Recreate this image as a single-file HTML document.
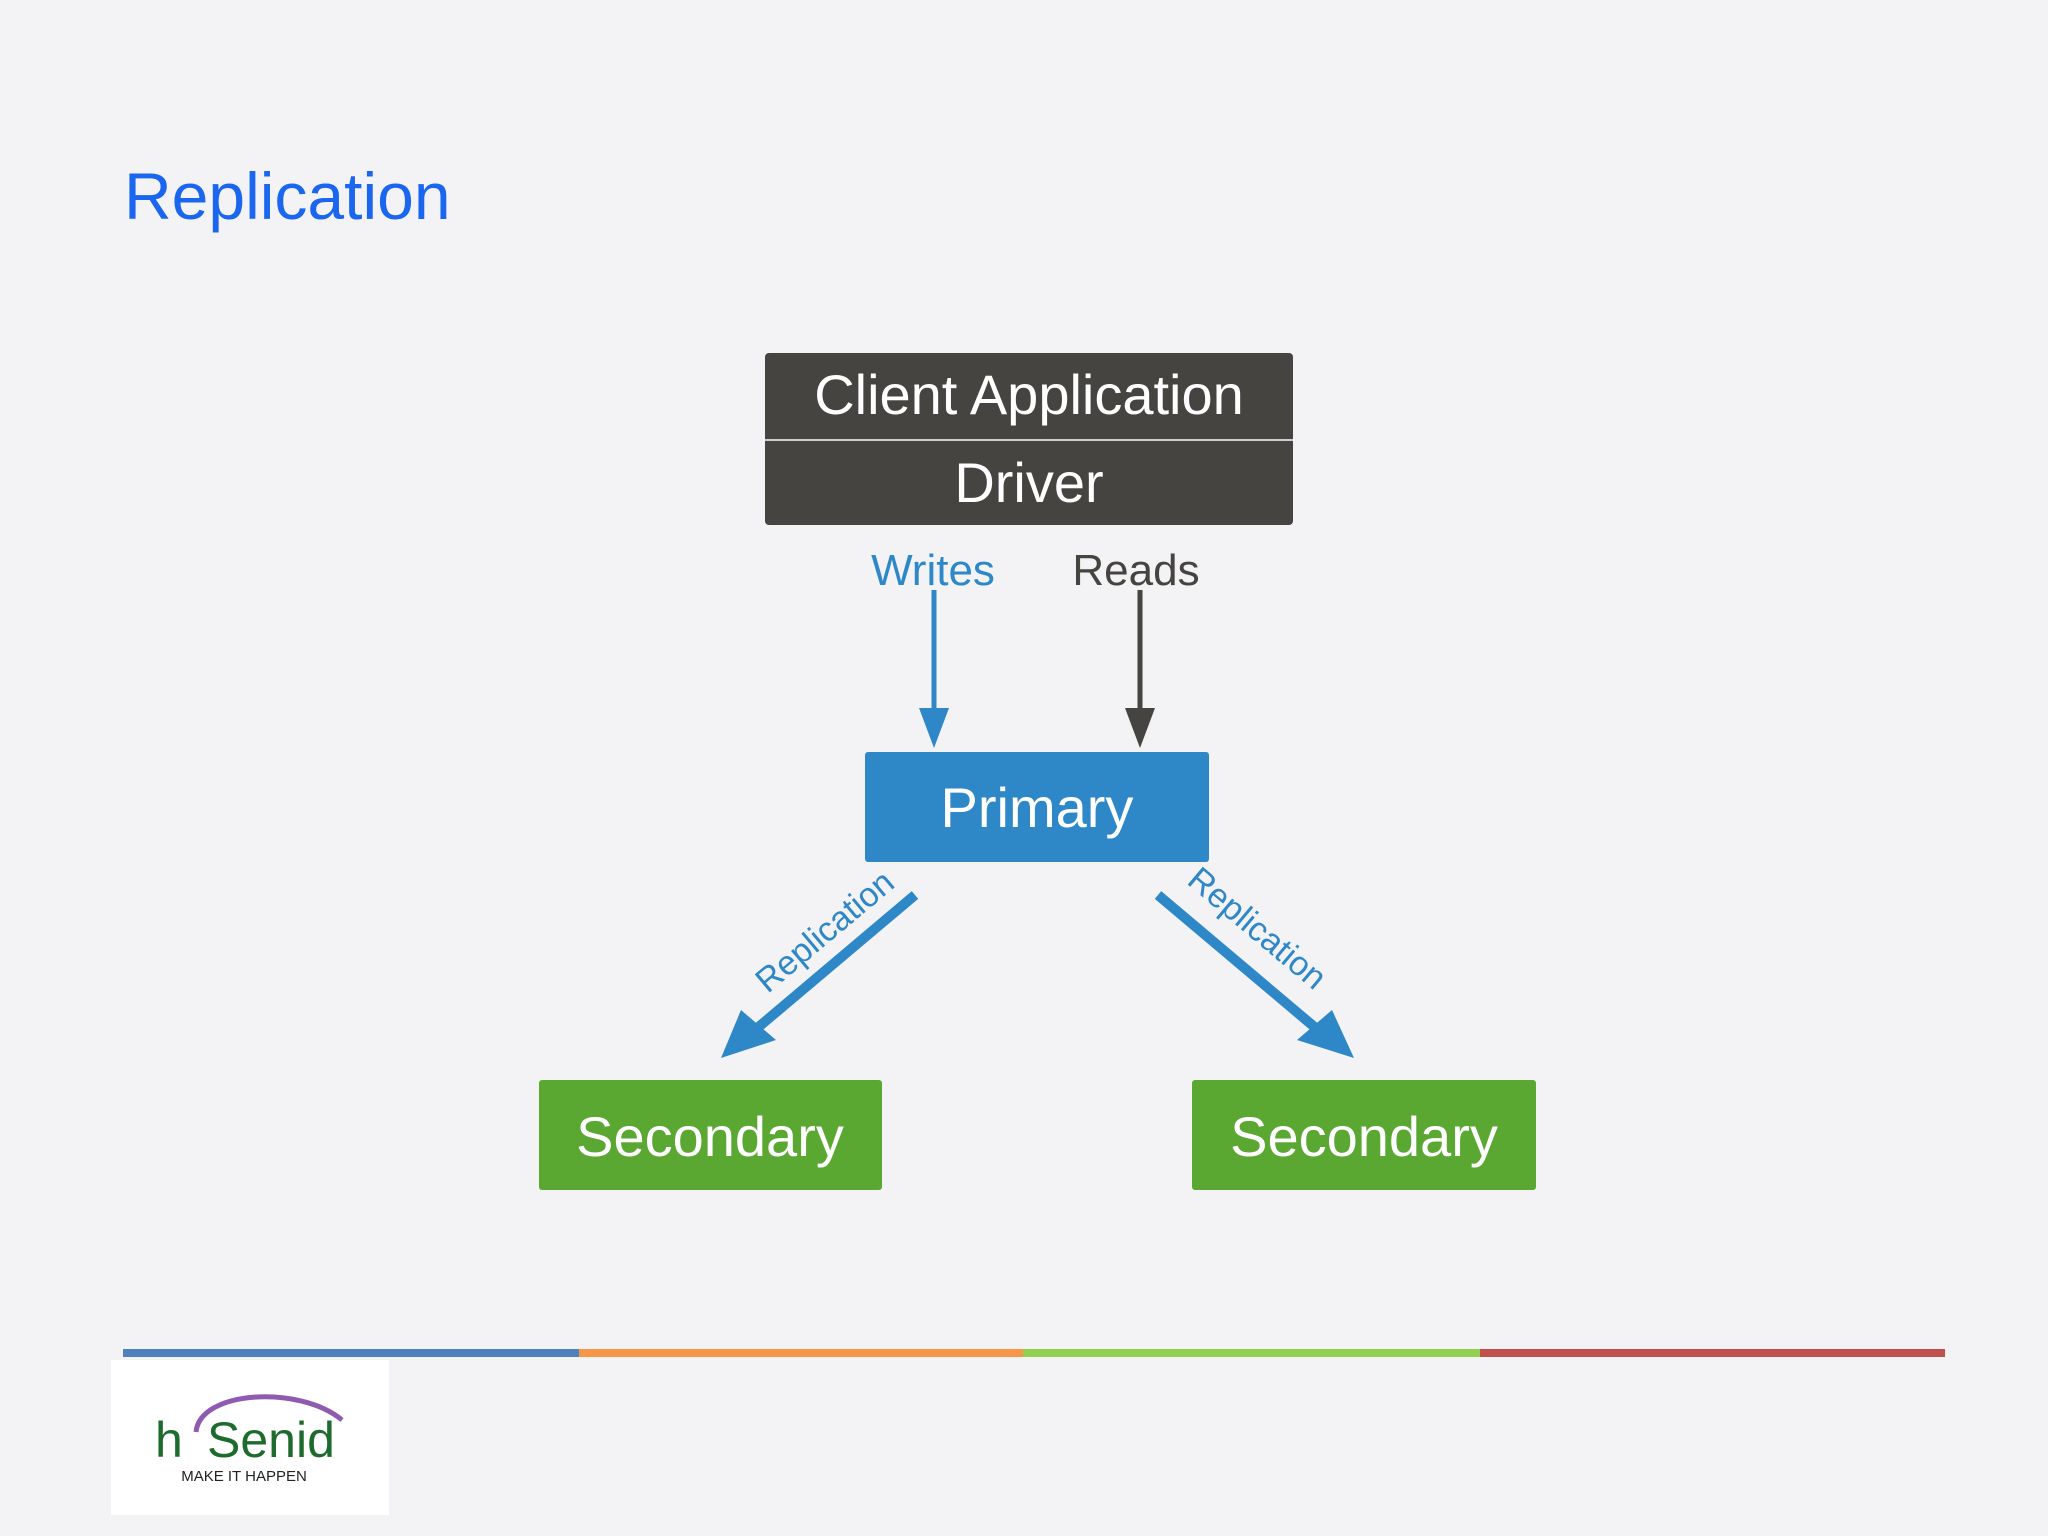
<!DOCTYPE html>
<html><head><style>
body{margin:0;width:2048px;height:1536px;background:#f3f2f4;position:relative;overflow:hidden;font-family:"Liberation Sans",sans-serif}
.t{position:absolute;left:124px;top:158px;font-size:66px;color:#1a66ee}
</style></head><body>
<div class="t">Replication</div>
<svg width="2048" height="1536" style="position:absolute;left:0;top:0" font-family="Liberation Sans, sans-serif">
<rect x="765" y="353" width="528" height="172" rx="4" fill="#454441"/>
<line x1="765" y1="440" x2="1293" y2="440" stroke="#ccc" stroke-width="2"/>
<text x="1029" y="414" font-size="56" fill="#fff" text-anchor="middle">Client Application</text>
<text x="1029" y="502" font-size="56" fill="#fff" text-anchor="middle">Driver</text>
<text x="933" y="585" font-size="44" fill="#2e88c8" text-anchor="middle">Writes</text>
<text x="1136" y="585" font-size="44" fill="#454441" text-anchor="middle">Reads</text>
<line x1="934" y1="590" x2="934" y2="720" stroke="#2e88c8" stroke-width="5"/>
<polygon points="919,708 949,708 934,748" fill="#2e88c8"/>
<line x1="1140" y1="590" x2="1140" y2="720" stroke="#454441" stroke-width="5"/>
<polygon points="1125,708 1155,708 1140,748" fill="#454441"/>
<rect x="865" y="752" width="344" height="110" rx="3" fill="#2e88c8"/>
<text x="1037" y="827" font-size="56" fill="#fff" text-anchor="middle">Primary</text>
<line x1="915" y1="895" x2="755" y2="1030" stroke="#2e88c8" stroke-width="10"/>
<polygon points="721,1058 741,1010 776,1040" fill="#2e88c8"/>
<line x1="1158" y1="895" x2="1318" y2="1030" stroke="#2e88c8" stroke-width="10"/>
<polygon points="1354,1058 1297,1040 1332,1010" fill="#2e88c8"/>
<text transform="translate(832,940) rotate(-40)" font-size="34" fill="#2e88c8" text-anchor="middle">Replication</text>
<text transform="translate(1250,937) rotate(40)" font-size="34" fill="#2e88c8" text-anchor="middle">Replication</text>
<rect x="539" y="1080" width="343" height="110" rx="3" fill="#5aa832"/>
<text x="710" y="1156" font-size="56" fill="#fff" text-anchor="middle">Secondary</text>
<rect x="1192" y="1080" width="344" height="110" rx="3" fill="#5aa832"/>
<text x="1364" y="1156" font-size="56" fill="#fff" text-anchor="middle">Secondary</text>
<rect x="123" y="1349" width="456" height="8" fill="#4f81bd"/>
<rect x="579" y="1349" width="444" height="8" fill="#f79646"/>
<rect x="1023" y="1349" width="457" height="8" fill="#92d050"/>
<rect x="1480" y="1349" width="465" height="8" fill="#c0504d"/>
<rect x="111" y="1360" width="278" height="155" fill="#fff"/>
<path d="M196,1432 C200,1390 300,1385 342,1420" stroke="#8e5bb0" stroke-width="5" fill="none"/>
<text x="155" y="1457" font-size="50" fill="#1e6b2e">h</text>
<text x="207" y="1457" font-size="50" fill="#1e6b2e">Senid</text>
<text x="244" y="1481" font-size="15" fill="#222" text-anchor="middle">MAKE IT HAPPEN</text>
</svg>
</body></html>
